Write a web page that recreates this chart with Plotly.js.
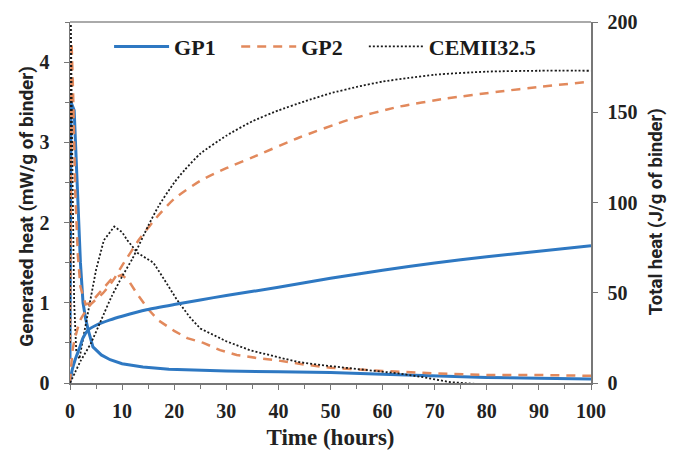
<!DOCTYPE html>
<html>
<head>
<meta charset="utf-8">
<script src="https://cdn.plot.ly/plotly-3.0.1.min.js"></script>
<style>html,body{margin:0;padding:0;background:#fff;}#chart{width:682px;height:450px;}</style>
</head>
<body>
<div id="chart"></div>
<script>
// Heat flow (mW/g of binder), left axis
const gp1RateX = [0, 0.2, 0.8, 1.2, 1.6, 2, 2.5, 3, 3.5, 4.4, 6, 7.7, 10, 14, 19, 23, 30, 40, 50, 60, 70, 80, 90, 100];
const gp1RateY = [0.3, 3.5, 3.4, 2.8, 2.0, 1.5, 1.0, 0.8, 0.66, 0.45, 0.35, 0.29, 0.24, 0.2, 0.17, 0.16, 0.15, 0.14, 0.13, 0.11, 0.09, 0.07, 0.06, 0.05];

const gp2RateX = [0, 0.3, 0.6, 1, 1.5, 2, 3, 4, 6, 8, 10, 11.5, 13, 15, 17, 20, 22.5, 25.6, 28.8, 32, 36, 40, 45, 50, 60, 70, 80, 90, 100];
const gp2RateY = [0.5, 4.25, 3.6, 2.4, 1.6, 1.2, 0.98, 1.0, 1.15, 1.3, 1.35, 1.25, 1.1, 0.92, 0.78, 0.65, 0.56, 0.5, 0.41, 0.35, 0.31, 0.28, 0.23, 0.19, 0.15, 0.12, 0.1, 0.1, 0.09];

const cemRateX = [0, 0.15, 0.4, 0.8, 1.2, 1.8, 2.5, 3.5, 5, 6.5, 8.5, 10, 11, 13, 16, 17.5, 19, 20.5, 23, 25, 30, 34.5, 40, 44, 50, 54, 60, 63, 68, 73, 80, 90, 100];
const cemRateY = [0.5, 4.6, 3.0, 1.0, 0.4, 0.3, 0.55, 0.9, 1.41, 1.78, 1.95, 1.88, 1.78, 1.62, 1.5, 1.35, 1.2, 1.04, 0.82, 0.68, 0.52, 0.41, 0.32, 0.26, 0.21, 0.18, 0.14, 0.12, 0.07, 0.01, -0.02, -0.02, -0.02];

// Total heat (J/g of binder), right axis
const gp1TotX = [0, 0.4, 1, 1.9, 2.5, 3.5, 5, 7.7, 10, 14.7, 20, 25, 30, 40, 50, 60, 70, 80, 90, 100];
const gp1TotY = [0, 7, 13, 20, 25, 29.4, 32, 35, 37, 40.6, 43.5, 46, 48.5, 53, 58, 62.5, 66.5, 70, 73, 76];

const gp2TotX = [0, 0.6, 2, 3.8, 6.4, 8.3, 10, 13.4, 17, 20, 25, 30, 35, 44, 53.7, 63, 72, 82.5, 90, 100];
const gp2TotY = [0, 20, 35, 43, 50, 57, 65, 80, 93, 102, 112, 119, 125, 136, 146, 153, 157.5, 161.5, 164, 167];

const cemTotX = [0, 1, 2, 4, 6, 8, 10, 12, 15, 17, 20, 22, 25, 30, 35, 40, 45, 50, 55, 60, 65, 70, 80, 90, 100];
const cemTotY = [0, 6, 12, 22, 35, 48, 59, 69, 87, 98, 111, 118, 127, 137, 145, 151, 156, 160.5, 164, 167, 169, 170.8, 172.5, 173, 173];

const xTicks = [0, 10, 20, 30, 40, 50, 60, 70, 80, 90, 100];
const leftTicks = [0, 1, 2, 3, 4];
const rightTicks = [0, 50, 100, 150, 200];

const blue = '#2E78C2';
const orange = '#E2895C';
const black = '#1a1a1a';

const traces = [
  {x: gp1RateX, y: gp1RateY, name: 'GP1', mode: 'lines', line: {color: blue, width: 3}, yaxis: 'y', legend: 'legend'},
  {x: gp2RateX, y: gp2RateY, name: 'GP2', mode: 'lines', line: {color: orange, width: 2.5, dash: '9px,7px'}, yaxis: 'y', legend: 'legend2'},
  {x: cemRateX, y: cemRateY, name: 'CEMII32.5', mode: 'lines', line: {color: black, width: 1.8, dash: '2px,2px'}, yaxis: 'y', legend: 'legend3'},
  {x: gp1TotX, y: gp1TotY, name: 'GP1', mode: 'lines', line: {color: blue, width: 3, shape: 'spline', smoothing: 0.6}, yaxis: 'y2', showlegend: false},
  {x: gp2TotX, y: gp2TotY, name: 'GP2', mode: 'lines', line: {color: orange, width: 2.5, dash: '9px,7px', shape: 'spline', smoothing: 0.6}, yaxis: 'y2', showlegend: false},
  {x: cemTotX, y: cemTotY, name: 'CEMII32.5', mode: 'lines', line: {color: black, width: 1.8, dash: '2px,2px', shape: 'spline', smoothing: 0.6}, yaxis: 'y2', showlegend: false}
];

const serif = 'Liberation Serif, Times New Roman, serif';
const sans = 'Roboto, Lato, sans-serif';

function legendAt(xPos) {
  return {
    orientation: 'h', x: xPos, y: 0.99, xanchor: 'left', yanchor: 'top',
    font: {family: serif, size: 22, color: '#1a1a1a', weight: 'bold'},
    itemwidth: 55, bgcolor: 'rgba(0,0,0,0)'
  };
}

const layout = {
  width: 682, height: 450,
  margin: {l: 70, r: 91, t: 22, b: 67},
  paper_bgcolor: '#fff', plot_bgcolor: '#fff',
  showlegend: true,
  legend: legendAt(0.075),
  legend2: legendAt(0.319),
  legend3: legendAt(0.564),
  xaxis: {
    range: [0, 100], tickvals: xTicks, ticktext: xTicks.map(String),
    showgrid: false, zeroline: false, showline: true, linecolor: '#777', linewidth: 1.5,
    ticks: 'outside', ticklen: 5, tickcolor: '#777', ticklabelstandoff: 4,
    minor: {dtick: 5, ticks: 'outside', ticklen: 4, tickcolor: '#777'},
    tickfont: {family: serif, size: 20, color: '#222', weight: 'bold'},
    title: {text: 'Time (hours)', font: {family: serif, size: 23, color: '#222', weight: 'bold'}, standoff: 8}
  },
  yaxis: {
    range: [0, 4.5], tickvals: leftTicks, ticktext: leftTicks.map(String),
    showgrid: false, zeroline: false, showline: true, linecolor: '#777', linewidth: 1.5,
    ticks: 'outside', ticklen: 5, tickcolor: '#777', ticklabelstandoff: 10,
    minor: {dtick: 0.5, ticks: 'outside', ticklen: 4, tickcolor: '#777'},
    tickfont: {family: serif, size: 20, color: '#222', weight: 'bold'}
  },
  yaxis2: {
    range: [0, 200], tickvals: rightTicks, ticktext: rightTicks.map(String),
    overlaying: 'y', side: 'right',
    showgrid: false, zeroline: false, showline: true, linecolor: '#777', linewidth: 1.5,
    ticks: 'outside', ticklen: 5, tickcolor: '#777', ticklabelstandoff: 6,
    tickfont: {family: serif, size: 20, color: '#222', weight: 'bold'}
  },
  annotations: [
    {text: '<b>Generated heat (mW/g of binder)</b>', xref: 'paper', yref: 'paper', x: -0.085, y: 0.49,
     xanchor: 'center', yanchor: 'middle', textangle: -90, showarrow: false,
     font: {family: sans, size: 19, color: '#222'}},
    {text: '<b>Total heat (J/g of binder)</b>', xref: 'paper', yref: 'paper', x: 1.124, y: 0.475,
     xanchor: 'center', yanchor: 'middle', textangle: -90, showarrow: false,
     font: {family: sans, size: 18.5, color: '#222'}}
  ],
  shapes: [
    {type: 'line', xref: 'paper', yref: 'paper', x0: 0, x1: 1, y0: 1, y1: 1, line: {color: '#aaa', width: 2}}
  ]
};

Plotly.newPlot('chart', traces, layout, {displayModeBar: false, staticPlot: true});
</script>
</body>
</html>
